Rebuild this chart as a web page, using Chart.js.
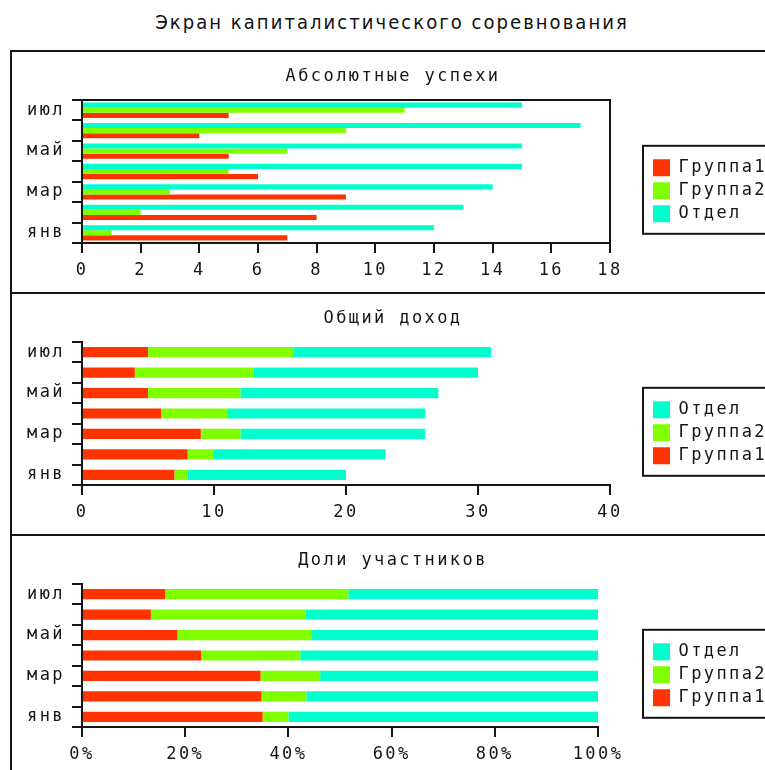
<!DOCTYPE html>
<html>
<head>
<meta charset="utf-8">
<script src="https://cdn.jsdelivr.net/npm/chart.js@4"></script>
<style>
html,body{margin:0;padding:0;background:#fff;}
#wrap{position:relative;width:765px;height:770px;overflow:hidden;background:#fff;}
#title{position:absolute;left:0;width:784px;top:9px;text-align:center;font-family:"DejaVu Sans";font-stretch:condensed;font-size:20px;letter-spacing:2.05px;color:#111;line-height:26px;white-space:nowrap;}
.panel{position:absolute;left:10px;width:762px;height:240px;border:2px solid #151515;background:#fff;}
.panel canvas{position:absolute;left:0;top:0;}
</style>
</head>
<body>
<div id="wrap">
  <div id="title">Экран капиталистического соревнования</div>
  <div class="panel" style="top:50px"><canvas id="c1" width="762" height="240"></canvas></div>
  <div class="panel" style="top:292px"><canvas id="c2" width="762" height="240"></canvas></div>
  <div class="panel" style="top:534px"><canvas id="c3" width="762" height="240"></canvas></div>
</div>
<script>
// ---- data ----
const categories = ['янв', 'фев', 'мар', 'апр', 'май', 'июн', 'июл'];
const group1 = [7, 8, 9, 6, 5, 4, 5];
const group2 = [1, 2, 3, 5, 7, 9, 11];
const dept   = [12, 13, 14, 15, 15, 17, 15];
const seriesNames = ['Группа1', 'Группа2', 'Отдел'];
const panelTitles = ['Абсолютные успехи', 'Общий доход', 'Доли участников'];
const absAxis   = {min: 0, max: 18, step: 2};
const totalAxis = {min: 0, max: 40, step: 10};
const shareAxis = {min: 0, max: 100, step: 20, suffix: '%'};

// ---- styles ----
const seriesColors = ['#ff3300', '#7fff00', '#00ffcc'];
const INK = '#151515';
const FONT = {family: 'DejaVu Sans Mono', size: 17, weight: 'normal'};
const LETTER_SPACING = '2.4px';

Chart.defaults.font.family = FONT.family;
Chart.defaults.font.size = FONT.size;
Chart.defaults.color = INK;

const seriesValues = [group1, group2, dept];
const totals = categories.map((_, i) => group1[i] + group2[i] + dept[i]);
const shareValues = seriesValues.map(arr => arr.map((v, i) => v / totals[i] * 100));

const spacingPlugin = {
  id: 'spacing',
  beforeUpdate(c) { c.ctx.letterSpacing = LETTER_SPACING; },
  beforeDraw(c) { c.ctx.letterSpacing = LETTER_SPACING; }
};
// centre the legend on the plot + x-axis label band, as in the original
const legendPlacePlugin = {
  id: 'legendPlace',
  afterLayout(c) {
    const L = c.legend;
    const target = c.chartArea.top + 90.8;
    const d = target - (L.top + L.bottom) / 2;
    L.top += d; L.bottom += d;
  },
  afterDraw(c) {
    const L = c.legend, ctx = c.ctx;
    const mid = (L.top + L.bottom) / 2;
    ctx.save();
    ctx.strokeStyle = INK;
    ctx.lineWidth = 2;
    ctx.strokeRect(L.left - 4, mid - 45, L.right - L.left + 2, 88);
    ctx.restore();
  }
};
const framePlugin = {
  id: 'frame',
  afterDraw(c) {
    const a = c.chartArea, ctx = c.ctx;
    ctx.save();
    ctx.strokeStyle = INK;
    ctx.lineWidth = 2;
    ctx.strokeRect(a.left, a.top, a.right - a.left, a.bottom - a.top);
    ctx.restore();
  }
};

function makeChart(id, title, values, axis, opts) {
  const order = opts.stacked ? [0, 1, 2] : [2, 1, 0];
  const datasets = order.map(k => ({
    label: seriesNames[k],
    data: values[k],
    backgroundColor: seriesColors[k],
    borderWidth: 0,
    barPercentage: opts.stacked ? 0.5 : 1.0,
    categoryPercentage: opts.stacked ? 1.0 : 0.75
  }));
  const plugins = [spacingPlugin, legendPlacePlugin];
  if (opts.frame) plugins.push(framePlugin);
  return new Chart(document.getElementById(id), {
    type: 'bar',
    data: {labels: categories, datasets},
    plugins,
    options: {
      indexAxis: 'y',
      responsive: false,
      animation: false,
      devicePixelRatio: 1,
      layout: {padding: {left: 0, right: 0, top: 0, bottom: 10.4}},
      plugins: {
        tooltip: {enabled: false},
        title: {
          display: true, text: title, color: INK,
          font: FONT, padding: {top: 14.8, bottom: 12.8}
        },
        legend: {
          position: 'right',
          reverse: true,
          labels: {boxWidth: 17, boxHeight: 17, padding: 6, color: INK, font: FONT}
        }
      },
      scales: {
        x: {
          type: 'linear',
          stacked: !!opts.stacked,
          min: axis.min, max: axis.max,
          ticks: {
            stepSize: axis.step, padding: 7, color: INK, font: FONT,
            callback: v => v + (axis.suffix || '')
          },
          grid: {display: true, drawOnChartArea: false, drawTicks: true, tickLength: 10, color: INK, lineWidth: 2},
          border: {display: true, color: INK, width: 2},
          afterFit(s) { s.height = 38.6; }
        },
        y: {
          type: 'category',
          reverse: true,
          stacked: !!opts.stacked,
          ticks: {
            autoSkip: false, padding: 7, color: INK, font: FONT,
            callback: function (v, i) { return i % 2 === 0 ? this.getLabelForValue(v) : ''; }
          },
          grid: {display: true, offset: true, drawOnChartArea: false, drawTicks: true, tickLength: 10, color: INK, lineWidth: 2},
          border: {display: true, color: INK, width: 2},
          afterFit(s) { s.width = 70; }
        },
        gap: {
          type: 'linear', axis: 'y', position: 'right', display: true,
          grid: {display: false}, ticks: {display: false}, border: {display: false},
          afterFit(s) { s.width = Math.max(0, s.chart.width - s.chart.legend.width - opts.plotRight); }
        }
      }
    }
  });
}

makeChart('c1', panelTitles[0], seriesValues, absAxis, {stacked: false, frame: true, plotRight: 598});
makeChart('c2', panelTitles[1], seriesValues, totalAxis, {stacked: true, plotRight: 598});
makeChart('c3', panelTitles[2], shareValues, shareAxis, {stacked: true, plotRight: 586});
</script>
</body>
</html>
